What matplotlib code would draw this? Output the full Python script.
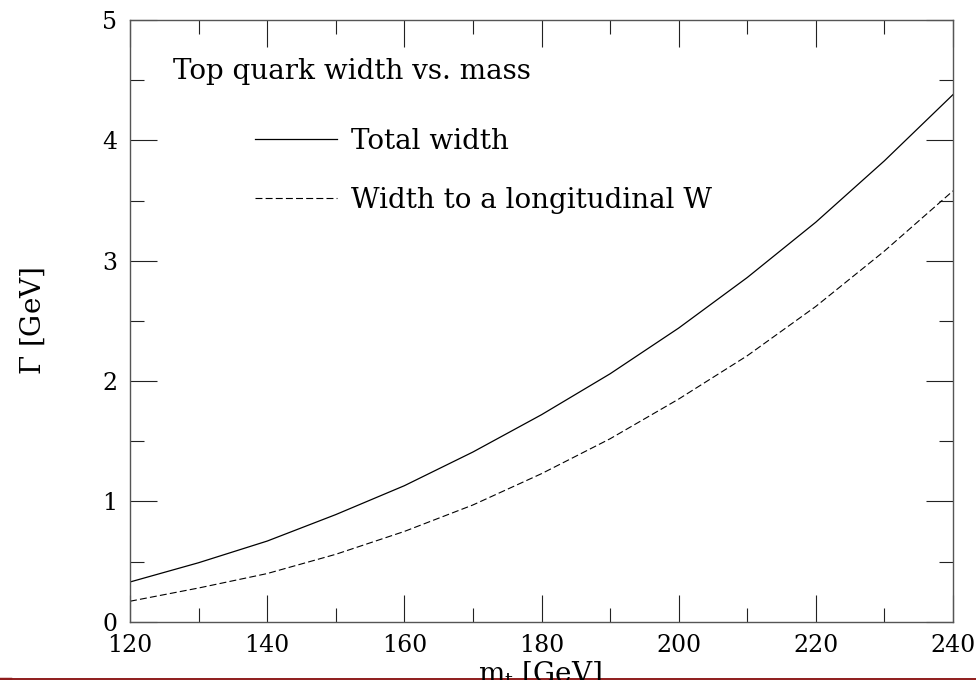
import matplotlib
matplotlib.use("Agg")
import matplotlib.pyplot as plt
from matplotlib.lines import Line2D
from matplotlib.ticker import MultipleLocator

# values
top_mass = [120, 130, 140, 150, 160, 170, 180, 190, 200, 210, 220, 230, 240]
width_total = [0.33, 0.49, 0.67, 0.89, 1.13, 1.41, 1.72, 2.06, 2.44, 2.86, 3.32, 3.83, 4.38]
width_long = [0.17, 0.28, 0.40, 0.56, 0.75, 0.97, 1.23, 1.52, 1.85, 2.21, 2.62, 3.08, 3.58]

x_ticks = [120, 140, 160, 180, 200, 220, 240]
y_ticks = [0, 1, 2, 3, 4, 5]

plt.rcParams['font.family'] = ['DejaVu Serif']
plt.rcParams['mathtext.fontset'] = 'dejavuserif'
plt.rcParams['lines.scale_dashes'] = False

W, H = 976, 680
fig = plt.figure(figsize=(W / 100, H / 100), dpi=100)


def fx(px):
    return px / W


def fy(py):
    # pixel measured from the top
    return 1 - py / H


left, right, top, bottom = 130, 953, 20, 621.7
ax = fig.add_axes([fx(left), fy(bottom), fx(right - left), (bottom - top) / H])

ax.plot(top_mass, width_total, color='black', lw=0.9, label='Total width')
ax.plot(top_mass, width_long, color='black', lw=0.8, dashes=(5, 2.3),
        label='Width to a longitudinal W')

ax.set_xlim(120, 240)
ax.set_ylim(0, 5)
ax.set_xticks(x_ticks)
ax.set_yticks(y_ticks)
ax.xaxis.set_minor_locator(MultipleLocator(10))
ax.yaxis.set_minor_locator(MultipleLocator(0.5))
ax.tick_params(which='both', direction='in', top=True, right=True,
               width=0.8, color='#222222', labelsize=17)
ax.tick_params(which='major', length=19.5, pad=9)
ax.tick_params(which='minor', length=10)
for s in ax.spines.values():
    s.set_color('#555555')
    s.set_linewidth(1.0)

ax.text(0.052, 0.915, 'Top quark width vs. mass', transform=ax.transAxes,
        fontsize=20, va='center', ha='left')

leg = ax.legend(loc='upper left', bbox_to_anchor=(fx(255), fy(128)),
                bbox_transform=fig.transFigure, frameon=False, fontsize=20,
                handlelength=2.95, handletextpad=0.5, labelspacing=1.15,
                borderpad=0, borderaxespad=0)

fig.text(fx(33), fy(321), r'$\Gamma$ [GeV]', rotation=90, fontsize=20,
         ha='center', va='center')
fig.text(fx(540), fy(681), r'm$_\mathrm{t}$ [GeV]', fontsize=20,
         ha='center', va='baseline')

# dark red rule along the bottom edge of the slide
fig.add_artist(Line2D([0, 1], [fy(678.8), fy(678.8)], transform=fig.transFigure,
                      color='#8e1c1c', lw=1.4))
fig.add_artist(Line2D([0, fx(10)], [fy(678.5), fy(678.5)], transform=fig.transFigure,
                      color='#8e1c1c', lw=2.5))

fig.savefig('out.png', dpi=100)
